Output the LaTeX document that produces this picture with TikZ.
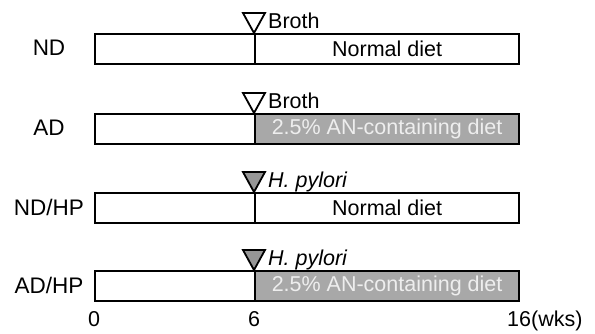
\documentclass[tikz,border=0pt]{standalone}
\usepackage{fontspec}
\setmainfont{Liberation Sans}
\definecolor{barg}{RGB}{168,168,168}
\definecolor{trig}{RGB}{150,150,150}
\definecolor{lightt}{RGB}{238,238,238}
\tikzset{
  seg/.style={draw, line width=2.2pt, minimum height=30pt, inner sep=0pt, anchor=north west},
  leftseg/.style={seg, minimum width=160pt},
  rightseg/.style={seg, minimum width=264pt},
  dietg/.style={fill=barg, text=lightt},
  tri/.style={draw, line width=1.8pt, line join=miter},
  grp/.style={font=\fontsize{22.5}{26}\selectfont, inner sep=0pt},
  lbl/.style={font=\fontsize{21.5}{25}\selectfont, inner sep=0pt},
}
\begin{document}
\begin{tikzpicture}[x=1pt, y=-1pt]
\useasboundingbox[fill=white] (0,0) rectangle (595,333);
% row 1
\node[leftseg] (l1) at (94,33) {};
\node[rightseg, lbl] (r1) at (254,33) {Normal diet};
\node[grp] (g1) at (49,48) {ND};
\draw[tri] (r1.north west) -- ++(-11,-20) -- ++(22,0) -- cycle;
\node[lbl, anchor=base west] (b1) at (268,28) {Broth};
% row 2
\node[leftseg] (l2) at (94,113) {};
\node[rightseg, lbl, dietg] (r2) at (254,113) {2.5\% AN-containing diet};
\node[grp] (g2) at (49,128) {AD};
\draw[tri] (r2.north west) -- ++(-11,-20) -- ++(22,0) -- cycle;
\node[lbl, anchor=base west] (b2) at (268,108) {Broth};
% row 3
\node[leftseg] (l3) at (94,192) {};
\node[rightseg, lbl] (r3) at (254,192) {Normal diet};
\node[grp] (g3) at (49,207) {ND/HP};
\draw[tri, fill=trig] (r3.north west) -- ++(-11,-20) -- ++(22,0) -- cycle;
\node[lbl, anchor=base west] (b3) at (268,187) {\itshape H. pylori};
% row 4
\node[leftseg] (l4) at (94,270) {};
\node[rightseg, lbl, dietg] (r4) at (254,270) {2.5\% AN-containing diet};
\node[grp] (g4) at (49,285) {AD/HP};
\draw[tri, fill=trig] (r4.north west) -- ++(-11,-20) -- ++(22,0) -- cycle;
\node[lbl, anchor=base west] (b4) at (268,265) {\itshape H. pylori};
% axis
\node[lbl, anchor=base] (a0) at (94,326) {0};
\node[lbl, anchor=base] (a6) at (254,326) {6};
\node[lbl, anchor=base west] (a16) at (507,326) {16(wks)};
\end{tikzpicture}
\end{document}
